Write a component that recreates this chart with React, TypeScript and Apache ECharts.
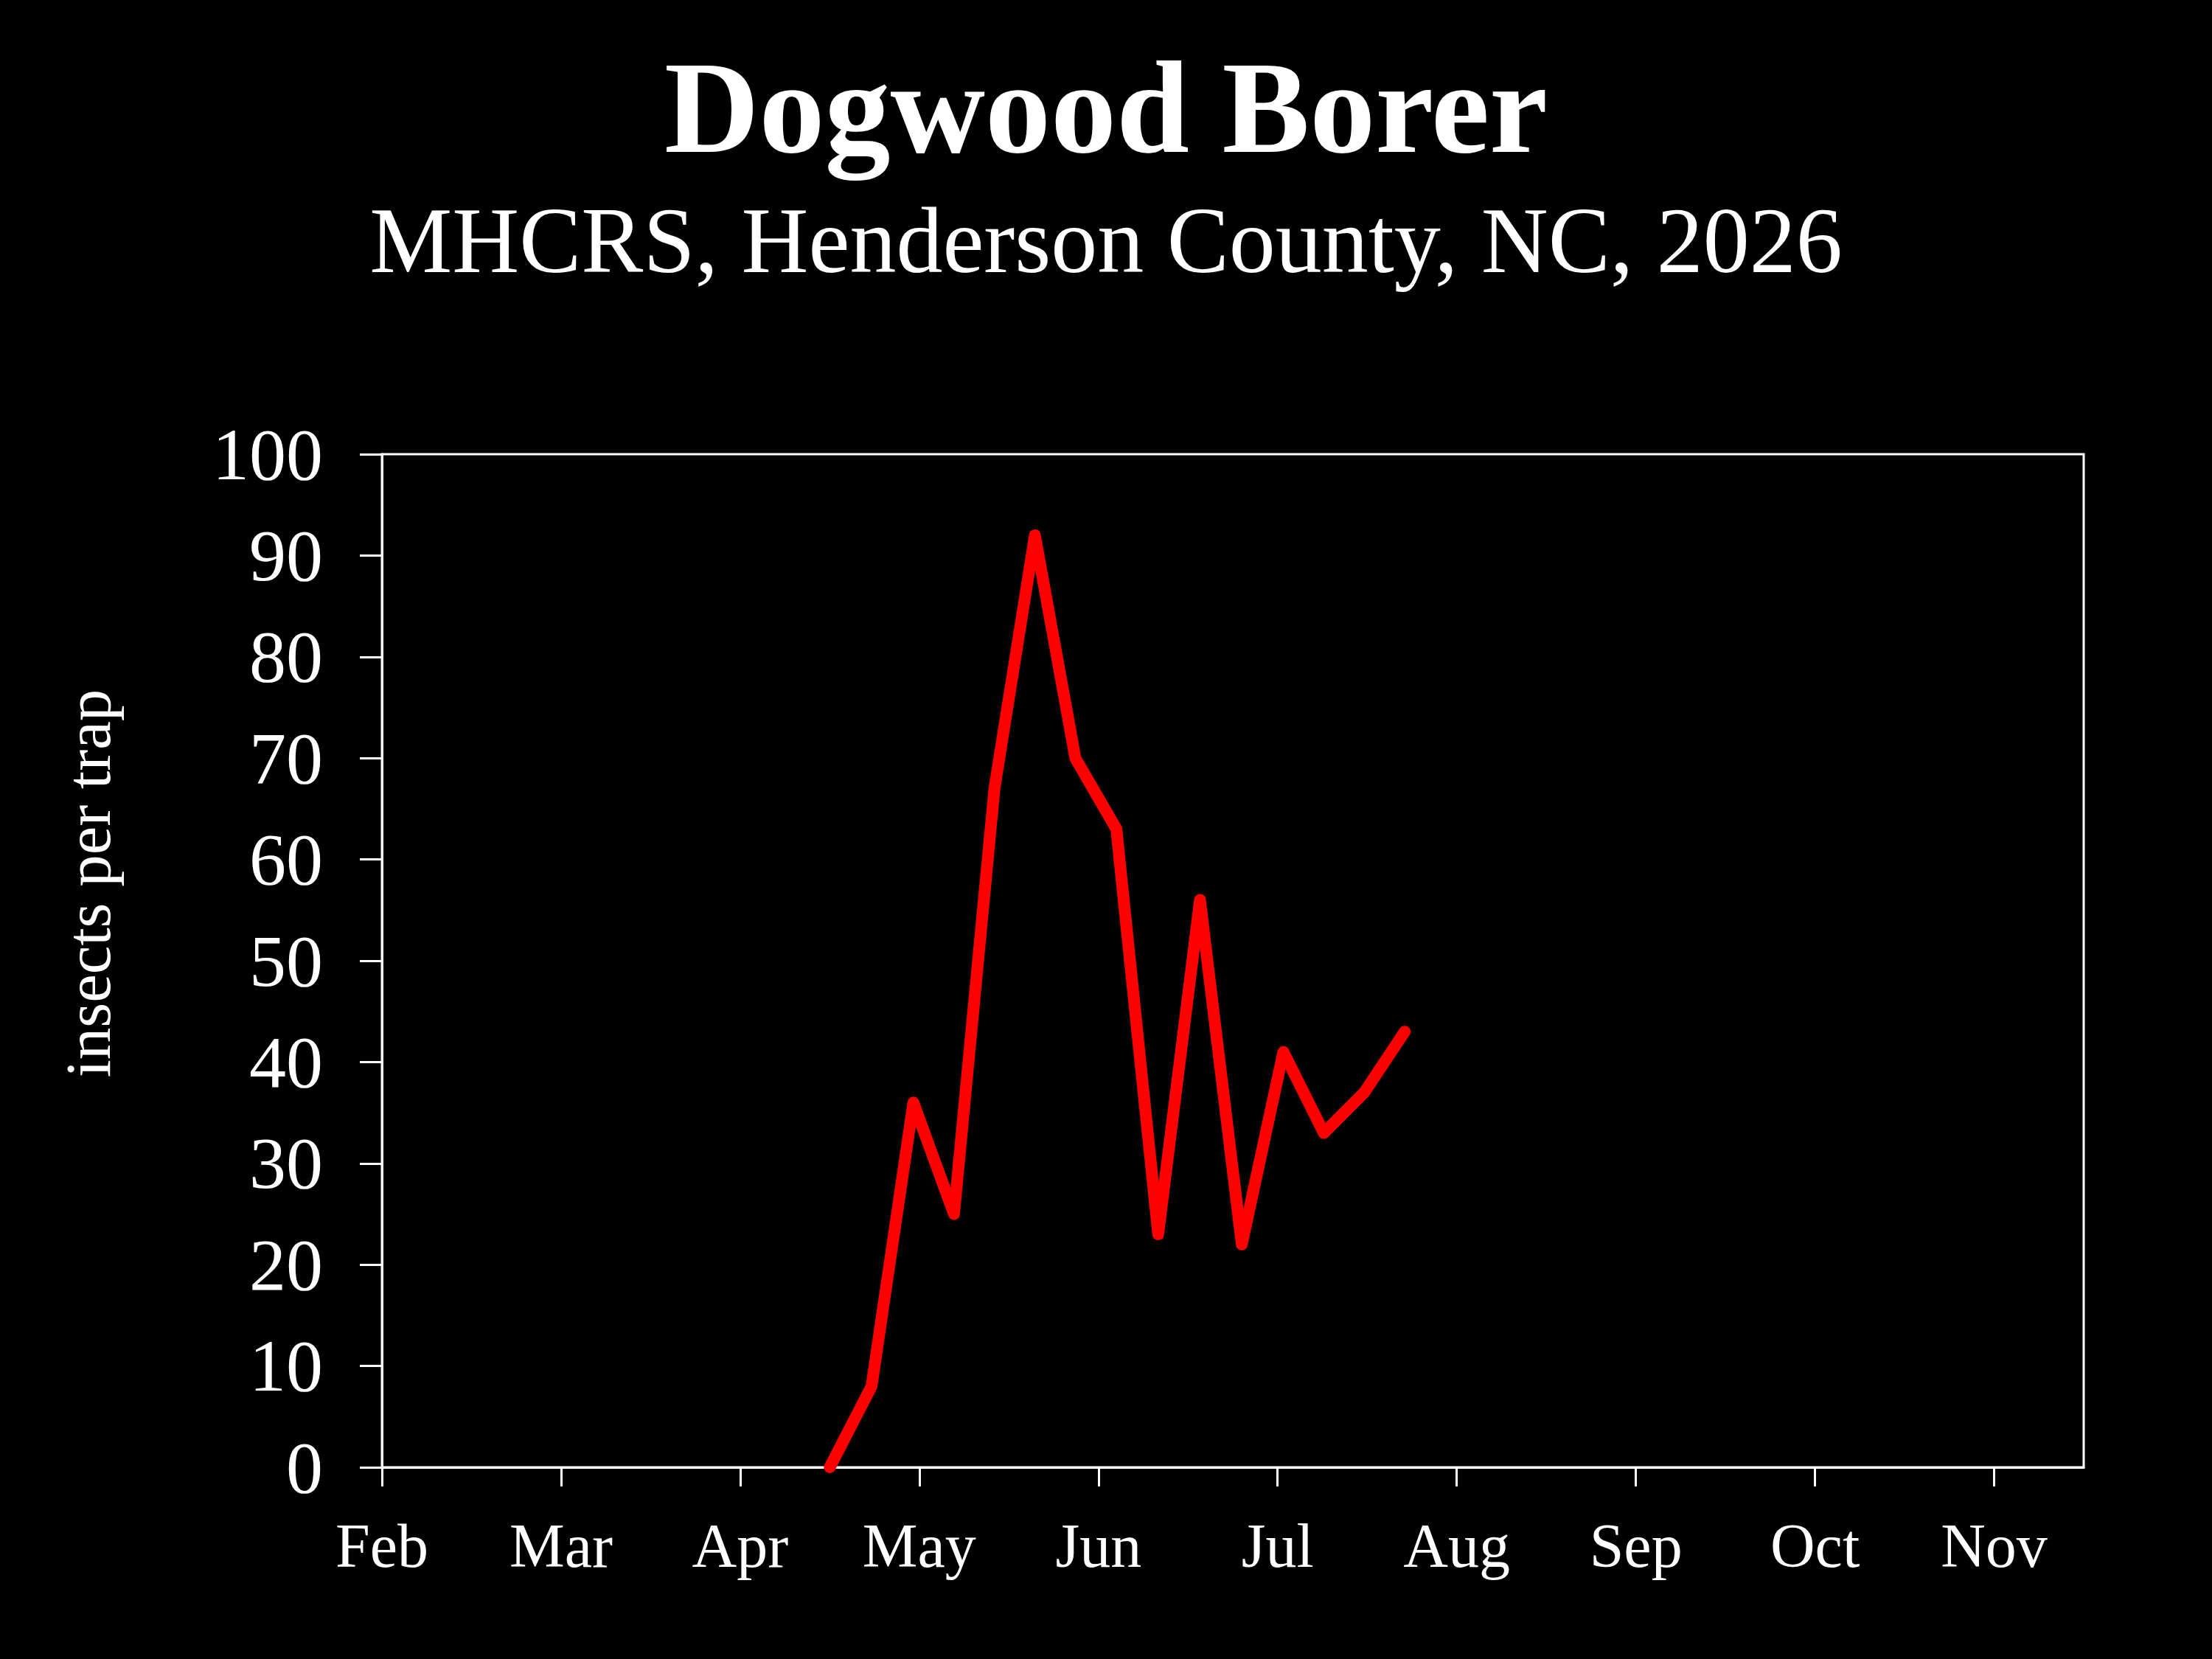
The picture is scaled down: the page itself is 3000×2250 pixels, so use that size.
import { useEffect, useRef } from 'react';
import * as echarts from 'echarts';

const TITLE = 'Dogwood Borer';
const SUBTITLE = 'MHCRS, Henderson County, NC, 2026';
const Y_NAME = 'insects per trap';

// month tick labels, Feb is month index 0
const MONTHS = ['Feb', 'Mar', 'Apr', 'May', 'Jun', 'Jul', 'Aug', 'Sep', 'Oct', 'Nov'];
const DAYS_IN_MONTH = [28, 31, 30, 31, 30, 31, 31, 30, 31, 30];

// weekly trap dates [month index, day]
const SAMPLE_DATES: [number, number][] = [
  [2, 16], [2, 23], [2, 30], [3, 7], [3, 14], [3, 21], [3, 28], [4, 4],
  [4, 11], [4, 18], [4, 25], [5, 2], [5, 9], [5, 16], [5, 23],
];
const COUNTS = [0, 8, 36, 25, 67, 92, 70, 63, 23, 56, 22, 41, 33, 37, 43];

const Y_TICKS = [0, 10, 20, 30, 40, 50, 60, 70, 80, 90, 100];

const FONT = "'Liberation Serif', 'Times New Roman', serif";

export default function App() {
  const chartRef = useRef<HTMLDivElement>(null);

  useEffect(() => {
    if (!chartRef.current) return;
    const chart = echarts.init(chartRef.current, undefined, { renderer: 'svg' });

    const points = SAMPLE_DATES.map(([m, d], i) => [m + (d - 1) / DAYS_IN_MONTH[m], COUNTS[i]]);

    const option: echarts.EChartsOption = {
      animation: false,
      backgroundColor: '#000000',
      textStyle: { fontFamily: FONT },
      title: [
        {
          text: TITLE,
          left: 'center',
          top: 52,
          textStyle: { color: '#ffffff', fontSize: 178, fontWeight: 'bold', fontFamily: FONT },
        },
        {
          text: SUBTITLE,
          left: 'center',
          top: 258,
          textStyle: { color: '#ffffff', fontSize: 126, fontWeight: 'normal', fontFamily: FONT },
        },
      ],
      graphic: [
        {
          type: 'text',
          x: 119,
          y: 1198,
          rotation: Math.PI / 2,
          style: {
            text: Y_NAME,
            fill: '#ffffff',
            font: `87px ${FONT}`,
            align: 'center',
            verticalAlign: 'middle',
          },
        },
      ],
      grid: {
        left: 518,
        right: 174,
        top: 616,
        bottom: 260,
        show: true,
        borderColor: '#ffffff',
        borderWidth: 3,
        backgroundColor: 'transparent',
      },
      xAxis: {
        type: 'value',
        min: 0,
        max: 9.5,
        axisLine: { show: true, lineStyle: { color: '#ffffff', width: 3 } },
        axisTick: {
          show: true,
          inside: false,
          length: 26,
          customValues: MONTHS.map((_, i) => i),
          lineStyle: { color: '#ffffff', width: 3 },
        },
        axisLabel: {
          color: '#ffffff',
          fontSize: 84,
          fontFamily: FONT,
          margin: 64,
          customValues: MONTHS.map((_, i) => i),
          formatter: (v: number) => MONTHS[Math.round(v)] ?? '',
        },
        splitLine: { show: false },
      },
      yAxis: {
        type: 'value',
        min: 0,
        max: 100,
        interval: 10,
        axisLine: { show: true, lineStyle: { color: '#ffffff', width: 3 } },
        axisTick: {
          show: true,
          inside: false,
          length: 30,
          customValues: Y_TICKS,
          lineStyle: { color: '#ffffff', width: 3 },
        },
        axisLabel: {
          color: '#ffffff',
          fontSize: 100,
          fontFamily: FONT,
          margin: 80,
          customValues: Y_TICKS,
        },
        splitLine: { show: false },
      },
      series: [
        {
          type: 'line',
          data: points,
          symbol: 'none',
          lineStyle: { color: '#ff0000', width: 16, join: 'round', cap: 'round' },
        },
      ],
    };

    chart.setOption(option);

    return () => {
      chart.dispose();
    };
  }, []);

  return (
    <div
      ref={chartRef}
      style={{ position: 'fixed', left: 0, top: 0, width: '3000px', height: '2250px', background: '#000' }}
    />
  );
}
